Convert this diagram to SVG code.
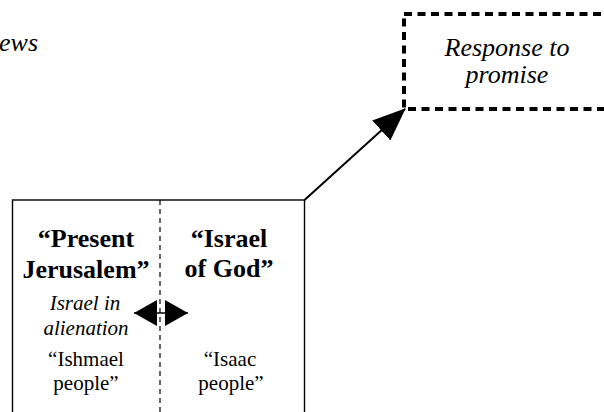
<svg xmlns="http://www.w3.org/2000/svg" width="604" height="412" viewBox="0 0 604 412" font-family="Liberation Serif, Times New Roman, Times, serif">
<style>
text{fill:#000;text-anchor:middle}
.big{font-size:26px;font-weight:bold}
.it{font-size:21px;font-style:italic}
.rg{font-size:21px}
.it26{font-size:26px;font-style:italic}
.box{fill:#fff;stroke:#000;stroke-width:1.4}
.divider{stroke:#000;stroke-width:1.2;stroke-dasharray:5 4;fill:none}
.dashbox{fill:#fff;stroke:#000;stroke-width:4;stroke-dasharray:8 5.5}
.conn{stroke:#000;fill:none}
</style>
<defs>
<marker id="head" viewBox="0 0 33 27" refX="32" refY="13.5" markerWidth="33" markerHeight="27" markerUnits="userSpaceOnUse" orient="auto"><path d="M0,0 L33,13.5 L0,27 z" fill="#000"/></marker>
<marker id="dbl" viewBox="0 0 23 26" refX="23" refY="13" markerWidth="23" markerHeight="26" markerUnits="userSpaceOnUse" orient="auto-start-reverse"><path d="M0,0 L23,13 L0,26 z" fill="#000"/></marker>
</defs>
<g id="node-ews">
<text class="it26" x="-1" y="51" style="text-anchor:start">ews</text>
</g>
<g id="node-response">
<rect class="dashbox" x="404" y="14" width="215" height="95"/>
<text class="it26" x="507" y="56">Response to</text>
<text class="it26" x="507" y="83">promise</text>
</g>
<g id="node-israel">
<rect class="box" x="12.5" y="200" width="292" height="230"/>
<line class="divider" x1="160" y1="200" x2="160" y2="420"/>
<text class="big" x="86" y="247">“Present</text>
<text class="big" x="86" y="278">Jerusalem”</text>
<text class="big" x="229" y="247">“Israel</text>
<text class="big" x="229" y="277">of God”</text>
<text class="it" x="85" y="310">Israel in</text>
<text class="it" x="86" y="335">alienation</text>
<text class="rg" x="86" y="366">“Ishmael</text>
<text class="rg" x="86" y="390">people”</text>
<text class="rg" x="230" y="366">“Isaac</text>
<text class="rg" x="231" y="390">people”</text>
</g>
<g id="connectors">
<line class="conn" stroke-width="2" x1="304.5" y1="200" x2="405" y2="109" marker-end="url(#head)"/>
<line class="conn" stroke-width="1.5" x1="134" y1="313" x2="188" y2="313" marker-start="url(#dbl)" marker-end="url(#dbl)"/>
</g>
</svg>
